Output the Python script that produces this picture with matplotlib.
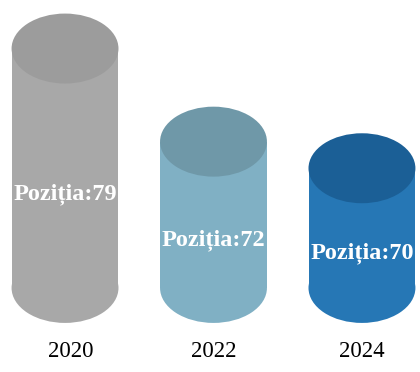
import matplotlib
matplotlib.use('Agg')
import matplotlib.pyplot as plt
from matplotlib.patches import Ellipse, Rectangle
import matplotlib.transforms as mtransforms

# data
years = ['2020', '2022', '2024']
positions = [79, 72, 70]
labels = ['Poziția:%d' % p for p in positions]

# colours: body / top of each cylinder
body_colors = ['#a8a8a8', '#80b0c4', '#2677b5']
top_colors = ['#9c9c9c', '#6f98a8', '#1b5f96']

base = 61.0          # value where the cylinders start
cyl_w = 0.72         # width of a cylinder, in category units
rad = 2.63           # half height of the ellipses, in value units

fig = plt.figure(figsize=(4.2, 3.72), dpi=100)
ax = fig.add_axes([0, 0, 1, 1])
ax.set_xlim(-0.438, 2.391)
ax.set_ylim(54.68, 82.65)
ax.axis('off')

for i, (v, lab) in enumerate(zip(positions, labels)):
    # bottom cap, body, then top cap
    ax.add_patch(Ellipse((i, base), cyl_w, 2*rad, facecolor=body_colors[i],
                         edgecolor='none', zorder=1))
    ax.add_patch(Rectangle((i - cyl_w/2, base), cyl_w, v - base,
                           facecolor=body_colors[i], edgecolor='none', zorder=2))
    ax.add_patch(Ellipse((i, v), cyl_w, 2*rad, facecolor=top_colors[i],
                         edgecolor='none', zorder=3))
    ymid = (v + base - rad) / 2
    ax.text(i, ymid - 0.6, lab, color='white', ha='center', va='center',
            fontsize=17.5, fontweight='bold', family='Liberation Serif', zorder=4)

trans = mtransforms.blended_transform_factory(ax.transData, ax.transAxes)
for i, y in enumerate(years):
    ax.text(i + 0.04 * (i == 0), 0.055, y, transform=trans, ha='center', va='center',
            fontsize=16.5, family='Liberation Serif', color='black')

fig.savefig('out.png', dpi=100, facecolor='white')
